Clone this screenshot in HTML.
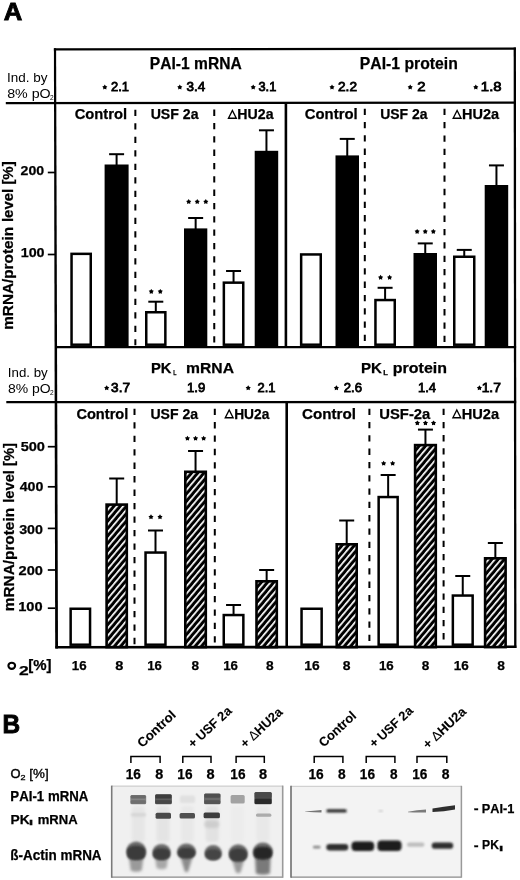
<!DOCTYPE html>
<html><head><meta charset="utf-8"><style>
html,body{margin:0;padding:0;background:#fff;}
text[font-weight="bold"]{stroke:#000;stroke-width:0.25px;}
svg{display:block;will-change:transform;font-family:"Liberation Sans",sans-serif;font-kerning:none;}
</style></head><body>
<svg width="520" height="880" viewBox="0 0 520 880">
<defs>
<pattern id="hatch" width="4.76" height="10" patternUnits="userSpaceOnUse" patternTransform="rotate(40)">
<rect width="4.76" height="10" fill="#000"/><rect x="0" width="1.7" height="10" fill="#fff"/>
</pattern>
<filter id="bl05" x="-20%" y="-50%" width="140%" height="200%"><feGaussianBlur stdDeviation="0.6"/></filter>
<filter id="bl07" x="-20%" y="-50%" width="140%" height="200%"><feGaussianBlur stdDeviation="0.65"/></filter>
<filter id="bl1" x="-20%" y="-50%" width="140%" height="200%"><feGaussianBlur stdDeviation="0.9"/></filter>
<filter id="bl12" x="-30%" y="-30%" width="160%" height="160%"><feGaussianBlur stdDeviation="1.2"/></filter>
<filter id="bl15" x="-30%" y="-30%" width="160%" height="160%"><feGaussianBlur stdDeviation="1.4"/></filter>
<filter id="bl2" x="-30%" y="-30%" width="160%" height="160%"><feGaussianBlur stdDeviation="1.8"/></filter>
</defs>
<rect width="520" height="880" fill="#fff"/>
<text x="3.66" y="20.40" font-size="24.8" font-weight="bold" textLength="18.51" lengthAdjust="spacingAndGlyphs" fill="#000" style="stroke-width:0.9px">A</text>
<path d="M53.9,48.2 L56.1,48.2 L58.0,648.6 L55.2,648.6 Z" fill="#000"/>
<line x1="514.8" y1="47.4" x2="515.3" y2="648.0" stroke="#000" stroke-width="2.3"/>
<line x1="53.9" y1="49.4" x2="515.9" y2="48.6" stroke="#000" stroke-width="2.3"/>
<line x1="5.8" y1="103.2" x2="515.9" y2="102.7" stroke="#000" stroke-width="2.3"/>
<line x1="55.2" y1="347.1" x2="516.1" y2="347.1" stroke="#000" stroke-width="2.3"/>
<line x1="6.3" y1="402.1" x2="516.2" y2="402.0" stroke="#000" stroke-width="2.3"/>
<line x1="55.4" y1="647.3" x2="516.4" y2="646.8" stroke="#000" stroke-width="2.6"/>
<line x1="285.9" y1="102.9" x2="285.9" y2="347.1" stroke="#000" stroke-width="2.6" />
<line x1="286.7" y1="402.0" x2="286.7" y2="647.0" stroke="#000" stroke-width="2.6" />
<line x1="135.35" y1="109.8" x2="135.35" y2="345.2" stroke="#000" stroke-width="2.0" stroke-dasharray="6.3 7.20"/>
<line x1="214.25" y1="109.6" x2="214.25" y2="345.2" stroke="#000" stroke-width="2.0" stroke-dasharray="6.3 7.03"/>
<line x1="364.8" y1="108.7" x2="364.8" y2="345.2" stroke="#000" stroke-width="2.0" stroke-dasharray="6.3 7.00"/>
<line x1="444.5" y1="108.7" x2="444.5" y2="345.2" stroke="#000" stroke-width="2.0" stroke-dasharray="6.3 7.06"/>
<line x1="134.5" y1="408.7" x2="134.5" y2="646.2" stroke="#000" stroke-width="2.0" stroke-dasharray="6.3 7.18"/>
<line x1="214.8" y1="408.7" x2="214.8" y2="646.2" stroke="#000" stroke-width="2.0" stroke-dasharray="6.3 7.08"/>
<line x1="369.4" y1="408.7" x2="369.4" y2="646.2" stroke="#000" stroke-width="2.0" stroke-dasharray="6.3 7.00"/>
<line x1="443.6" y1="408.7" x2="443.6" y2="646.2" stroke="#000" stroke-width="2.0" stroke-dasharray="6.3 6.90"/>
<text x="149.86" y="68.70" font-size="16.5" font-weight="bold" textLength="91.85" lengthAdjust="spacingAndGlyphs" fill="#000" >PAI-1 mRNA</text>
<text x="359.85" y="68.70" font-size="16.5" font-weight="bold" textLength="97.93" lengthAdjust="spacingAndGlyphs" fill="#000" >PAI-1 protein</text>
<polygon points="104.80,84.60 105.72,86.03 107.37,86.47 106.29,87.78 106.39,89.48 104.80,88.87 103.21,89.48 103.31,87.78 102.23,86.47 103.88,86.03" fill="#000"/>
<text x="110.95" y="91.20" font-size="13" font-weight="normal" textLength="17.98" lengthAdjust="spacingAndGlyphs" fill="#000" style="stroke:#000;stroke-width:0.8px">2.1</text>
<polygon points="179.80,84.60 180.72,86.03 182.37,86.47 181.29,87.78 181.39,89.48 179.80,88.87 178.21,89.48 178.31,87.78 177.23,86.47 178.88,86.03" fill="#000"/>
<text x="186.49" y="91.20" font-size="13" font-weight="normal" textLength="18.71" lengthAdjust="spacingAndGlyphs" fill="#000" style="stroke:#000;stroke-width:0.8px">3.4</text>
<polygon points="253.20,84.60 254.12,86.03 255.77,86.47 254.69,87.78 254.79,89.48 253.20,88.87 251.61,89.48 251.71,87.78 250.63,86.47 252.28,86.03" fill="#000"/>
<text x="258.51" y="91.20" font-size="13" font-weight="normal" textLength="17.81" lengthAdjust="spacingAndGlyphs" fill="#000" style="stroke:#000;stroke-width:0.8px">3.1</text>
<polygon points="332.00,84.60 332.92,86.03 334.57,86.47 333.49,87.78 333.59,89.48 332.00,88.87 330.41,89.48 330.51,87.78 329.43,86.47 331.08,86.03" fill="#000"/>
<text x="338.01" y="91.20" font-size="13" font-weight="normal" textLength="18.97" lengthAdjust="spacingAndGlyphs" fill="#000" style="stroke:#000;stroke-width:0.8px">2.2</text>
<polygon points="410.20,84.60 411.12,86.03 412.77,86.47 411.69,87.78 411.79,89.48 410.20,88.87 408.61,89.48 408.71,87.78 407.63,86.47 409.28,86.03" fill="#000"/>
<text x="417.15" y="91.20" font-size="13" font-weight="normal" textLength="8.30" lengthAdjust="spacingAndGlyphs" fill="#000" style="stroke:#000;stroke-width:0.8px">2</text>
<polygon points="475.80,84.60 476.72,86.03 478.37,86.47 477.29,87.78 477.39,89.48 475.80,88.87 474.21,89.48 474.31,87.78 473.23,86.47 474.88,86.03" fill="#000"/>
<text x="480.87" y="91.20" font-size="13" font-weight="normal" textLength="20.68" lengthAdjust="spacingAndGlyphs" fill="#000" style="stroke:#000;stroke-width:0.8px">1.8</text>
<text x="7.06" y="82.10" font-size="12" font-weight="normal" textLength="40.47" lengthAdjust="spacingAndGlyphs" fill="#000" >Ind. by</text>
<text x="7.18" y="97.90" font-size="12" font-weight="normal" textLength="43.50" lengthAdjust="spacingAndGlyphs" fill="#000" >8% pO</text>
<text x="50.07" y="99.70" font-size="7" font-weight="normal" textLength="3.66" lengthAdjust="spacingAndGlyphs" fill="#000" >2</text>
<text x="7.87" y="377.10" font-size="12" font-weight="normal" textLength="39.89" lengthAdjust="spacingAndGlyphs" fill="#000" >Ind. by</text>
<text x="7.99" y="393.30" font-size="12" font-weight="normal" textLength="42.67" lengthAdjust="spacingAndGlyphs" fill="#000" >8% pO</text>
<text x="50.07" y="395.10" font-size="7" font-weight="normal" textLength="3.66" lengthAdjust="spacingAndGlyphs" fill="#000" >2</text>
<text x="74.70" y="119.00" font-size="14.5" font-weight="bold" textLength="52.35" lengthAdjust="spacingAndGlyphs" fill="#000" >Control</text>
<text x="150.65" y="119.00" font-size="14.5" font-weight="bold" textLength="47.86" lengthAdjust="spacingAndGlyphs" fill="#000" >USF 2a</text>
<path d="M228.48,118.23 L236.32,118.23 L232.40,110.48 Z" fill="none" stroke="#000" stroke-width="1.35" stroke-linejoin="miter"/>
<text x="237.35" y="119.00" font-size="14.5" font-weight="bold" textLength="36.16" lengthAdjust="spacingAndGlyphs" fill="#000" >HU2a</text>
<text x="304.79" y="119.00" font-size="14.5" font-weight="bold" textLength="52.86" lengthAdjust="spacingAndGlyphs" fill="#000" >Control</text>
<text x="380.16" y="119.00" font-size="14.5" font-weight="bold" textLength="47.35" lengthAdjust="spacingAndGlyphs" fill="#000" >USF 2a</text>
<path d="M453.18,118.23 L461.02,118.23 L457.10,110.48 Z" fill="none" stroke="#000" stroke-width="1.35" stroke-linejoin="miter"/>
<text x="462.03" y="119.00" font-size="14.5" font-weight="bold" textLength="37.08" lengthAdjust="spacingAndGlyphs" fill="#000" >HU2a</text>
<text x="76.40" y="418.50" font-size="14.5" font-weight="bold" textLength="51.93" lengthAdjust="spacingAndGlyphs" fill="#000" >Control</text>
<text x="150.46" y="418.50" font-size="14.5" font-weight="bold" textLength="47.66" lengthAdjust="spacingAndGlyphs" fill="#000" >USF 2a</text>
<path d="M225.28,417.72 L233.12,417.72 L229.20,409.98 Z" fill="none" stroke="#000" stroke-width="1.35" stroke-linejoin="miter"/>
<text x="234.18" y="418.50" font-size="14.5" font-weight="bold" textLength="35.13" lengthAdjust="spacingAndGlyphs" fill="#000" >HU2a</text>
<text x="301.98" y="418.50" font-size="14.5" font-weight="bold" textLength="53.90" lengthAdjust="spacingAndGlyphs" fill="#000" >Control</text>
<text x="379.31" y="418.50" font-size="14.5" font-weight="bold" textLength="50.99" lengthAdjust="spacingAndGlyphs" fill="#000" >USF-2a</text>
<path d="M452.88,417.72 L460.72,417.72 L456.80,409.98 Z" fill="none" stroke="#000" stroke-width="1.35" stroke-linejoin="miter"/>
<text x="461.72" y="418.50" font-size="14.5" font-weight="bold" textLength="37.39" lengthAdjust="spacingAndGlyphs" fill="#000" >HU2a</text>
<line x1="47.8" y1="172.5" x2="55" y2="172.5" stroke="#000" stroke-width="1.7" />
<text x="20.61" y="175.30" font-size="13.5" font-weight="bold" textLength="23.57" lengthAdjust="spacingAndGlyphs" fill="#000" >200</text>
<line x1="47.8" y1="254.5" x2="55" y2="254.5" stroke="#000" stroke-width="1.7" />
<text x="20.70" y="257.30" font-size="13.5" font-weight="bold" textLength="23.89" lengthAdjust="spacingAndGlyphs" fill="#000" >100</text>
<line x1="47.8" y1="446.7" x2="55" y2="446.7" stroke="#000" stroke-width="1.7" />
<text x="20.65" y="451.00" font-size="13.5" font-weight="bold" textLength="24.35" lengthAdjust="spacingAndGlyphs" fill="#000" >500</text>
<line x1="47.8" y1="486.8" x2="55" y2="486.8" stroke="#000" stroke-width="1.7" />
<text x="19.69" y="491.00" font-size="13.5" font-weight="bold" textLength="23.70" lengthAdjust="spacingAndGlyphs" fill="#000" >400</text>
<line x1="47.8" y1="528.4" x2="55" y2="528.4" stroke="#000" stroke-width="1.7" />
<text x="19.17" y="533.80" font-size="13.5" font-weight="bold" textLength="23.81" lengthAdjust="spacingAndGlyphs" fill="#000" >300</text>
<line x1="47.8" y1="570.0" x2="55" y2="570.0" stroke="#000" stroke-width="1.7" />
<text x="18.59" y="575.00" font-size="13.5" font-weight="bold" textLength="24.41" lengthAdjust="spacingAndGlyphs" fill="#000" >200</text>
<line x1="47.8" y1="608.2" x2="55" y2="608.2" stroke="#000" stroke-width="1.7" />
<text x="18.18" y="610.90" font-size="13.5" font-weight="bold" textLength="24.42" lengthAdjust="spacingAndGlyphs" fill="#000" >100</text>
<g transform="translate(13.00,328.80) rotate(-90)"><text x="-1.01" y="0" font-size="15" font-weight="bold" textLength="102.96" lengthAdjust="spacingAndGlyphs">mRNA/protein</text></g>
<g transform="translate(13.00,221.00) rotate(-90)"><text x="-1.04" y="0" font-size="15" font-weight="bold" textLength="60.68" lengthAdjust="spacingAndGlyphs">level [%]</text></g>
<g transform="translate(14.20,610.20) rotate(-90)"><text x="-1.01" y="0" font-size="15" font-weight="bold" textLength="103.27" lengthAdjust="spacingAndGlyphs">mRNA/protein</text></g>
<g transform="translate(14.20,501.70) rotate(-90)"><text x="-1.02" y="0" font-size="15" font-weight="bold" textLength="59.55" lengthAdjust="spacingAndGlyphs">level [%]</text></g>
<rect x="71.55" y="253.85" width="19.20" height="90.85" fill="#fff" stroke="#000" stroke-width="2.5"/>
<line x1="116.6" y1="154.2" x2="116.6" y2="165.5" stroke="#000" stroke-width="2.0" />
<line x1="109.1" y1="154.2" x2="124.1" y2="154.2" stroke="#000" stroke-width="2.0" />
<rect x="104.60" y="164.50" width="24.00" height="182.60" fill="#000"/>
<line x1="155.8" y1="301.7" x2="155.8" y2="312.0" stroke="#000" stroke-width="2.0" />
<line x1="148.3" y1="301.7" x2="163.3" y2="301.7" stroke="#000" stroke-width="2.0" />
<rect x="146.25" y="312.25" width="19.10" height="32.45" fill="#fff" stroke="#000" stroke-width="2.5"/>
<polygon points="151.30,288.90 152.22,290.33 153.87,290.77 152.79,292.08 152.89,293.78 151.30,293.17 149.71,293.78 149.81,292.08 148.73,290.77 150.38,290.33" fill="#000"/>
<polygon points="160.30,288.90 161.22,290.33 162.87,290.77 161.79,292.08 161.89,293.78 160.30,293.17 158.71,293.78 158.81,292.08 157.73,290.77 159.38,290.33" fill="#000"/>
<line x1="195.65" y1="218.0" x2="195.65" y2="229.4" stroke="#000" stroke-width="2.0" />
<line x1="188.15" y1="218.0" x2="203.15" y2="218.0" stroke="#000" stroke-width="2.0" />
<rect x="184.00" y="228.40" width="23.30" height="118.70" fill="#000"/>
<polygon points="188.70,199.10 189.62,200.53 191.27,200.97 190.19,202.28 190.29,203.98 188.70,203.37 187.11,203.98 187.21,202.28 186.13,200.97 187.78,200.53" fill="#000"/>
<polygon points="197.25,199.10 198.17,200.53 199.82,200.97 198.74,202.28 198.84,203.98 197.25,203.37 195.66,203.98 195.76,202.28 194.68,200.97 196.33,200.53" fill="#000"/>
<polygon points="205.80,199.10 206.72,200.53 208.37,200.97 207.29,202.28 207.39,203.98 205.80,203.37 204.21,203.98 204.31,202.28 203.23,200.97 204.88,200.53" fill="#000"/>
<line x1="233.55" y1="271.0" x2="233.55" y2="282.4" stroke="#000" stroke-width="2.0" />
<line x1="226.05" y1="271.0" x2="241.05" y2="271.0" stroke="#000" stroke-width="2.0" />
<rect x="223.85" y="282.65" width="19.40" height="62.05" fill="#fff" stroke="#000" stroke-width="2.5"/>
<line x1="266.45" y1="130.3" x2="266.45" y2="151.8" stroke="#000" stroke-width="2.0" />
<line x1="258.95" y1="130.3" x2="273.95" y2="130.3" stroke="#000" stroke-width="2.0" />
<rect x="254.70" y="150.80" width="23.50" height="196.30" fill="#000"/>
<rect x="301.15" y="254.45" width="19.60" height="90.25" fill="#fff" stroke="#000" stroke-width="2.5"/>
<line x1="347.25" y1="138.9" x2="347.25" y2="156.4" stroke="#000" stroke-width="2.0" />
<line x1="339.75" y1="138.9" x2="354.75" y2="138.9" stroke="#000" stroke-width="2.0" />
<rect x="335.50" y="155.40" width="23.50" height="191.70" fill="#000"/>
<line x1="385.1" y1="287.8" x2="385.1" y2="299.8" stroke="#000" stroke-width="2.0" />
<line x1="377.6" y1="287.8" x2="392.6" y2="287.8" stroke="#000" stroke-width="2.0" />
<rect x="375.45" y="300.05" width="19.30" height="44.65" fill="#fff" stroke="#000" stroke-width="2.5"/>
<polygon points="380.60,274.80 381.52,276.23 383.17,276.67 382.09,277.98 382.19,279.68 380.60,279.07 379.01,279.68 379.11,277.98 378.03,276.67 379.68,276.23" fill="#000"/>
<polygon points="389.60,274.80 390.52,276.23 392.17,276.67 391.09,277.98 391.19,279.68 389.60,279.07 388.01,279.68 388.11,277.98 387.03,276.67 388.68,276.23" fill="#000"/>
<line x1="425.25" y1="243.4" x2="425.25" y2="254.0" stroke="#000" stroke-width="2.0" />
<line x1="417.75" y1="243.4" x2="432.75" y2="243.4" stroke="#000" stroke-width="2.0" />
<rect x="413.50" y="253.00" width="23.50" height="94.10" fill="#000"/>
<polygon points="417.15,228.90 418.07,230.33 419.72,230.77 418.64,232.08 418.74,233.78 417.15,233.17 415.56,233.78 415.66,232.08 414.58,230.77 416.23,230.33" fill="#000"/>
<polygon points="425.25,228.90 426.17,230.33 427.82,230.77 426.74,232.08 426.84,233.78 425.25,233.17 423.66,233.78 423.76,232.08 422.68,230.77 424.33,230.33" fill="#000"/>
<polygon points="433.35,228.90 434.27,230.33 435.92,230.77 434.84,232.08 434.94,233.78 433.35,233.17 431.76,233.78 431.86,232.08 430.78,230.77 432.43,230.33" fill="#000"/>
<line x1="464.25" y1="249.9" x2="464.25" y2="256.5" stroke="#000" stroke-width="2.0" />
<line x1="456.75" y1="249.9" x2="471.75" y2="249.9" stroke="#000" stroke-width="2.0" />
<rect x="454.25" y="256.75" width="20.00" height="87.95" fill="#fff" stroke="#000" stroke-width="2.5"/>
<line x1="496.45" y1="165.4" x2="496.45" y2="186.0" stroke="#000" stroke-width="2.0" />
<line x1="488.95" y1="165.4" x2="503.95" y2="165.4" stroke="#000" stroke-width="2.0" />
<rect x="484.70" y="185.00" width="23.50" height="162.10" fill="#000"/>
<text x="150.91" y="372.80" font-size="15.3" font-weight="bold" textLength="20.53" lengthAdjust="spacingAndGlyphs" fill="#000" >PK</text>
<text x="173.15" y="375.40" font-size="7" font-weight="bold" textLength="3.21" lengthAdjust="spacingAndGlyphs" fill="#000" >L</text>
<text x="186.07" y="372.80" font-size="15.3" font-weight="bold" textLength="47.95" lengthAdjust="spacingAndGlyphs" fill="#000" >mRNA</text>
<text x="360.89" y="372.80" font-size="15.3" font-weight="bold" textLength="20.95" lengthAdjust="spacingAndGlyphs" fill="#000" >PK</text>
<text x="383.29" y="375.40" font-size="7" font-weight="bold" textLength="4.64" lengthAdjust="spacingAndGlyphs" fill="#000" >L</text>
<text x="392.85" y="372.80" font-size="15.3" font-weight="bold" textLength="54.14" lengthAdjust="spacingAndGlyphs" fill="#000" >protein</text>
<polygon points="106.70,385.30 107.62,386.73 109.27,387.17 108.19,388.48 108.29,390.18 106.70,389.57 105.11,390.18 105.21,388.48 104.13,387.17 105.78,386.73" fill="#000"/>
<text x="111.08" y="391.80" font-size="13" font-weight="normal" textLength="18.90" lengthAdjust="spacingAndGlyphs" fill="#000" style="stroke:#000;stroke-width:0.8px">3.7</text>
<text x="187.00" y="391.80" font-size="13" font-weight="normal" textLength="18.33" lengthAdjust="spacingAndGlyphs" fill="#000" style="stroke:#000;stroke-width:0.8px">1.9</text>
<polygon points="248.20,385.30 249.12,386.73 250.77,387.17 249.69,388.48 249.79,390.18 248.20,389.57 246.61,390.18 246.71,388.48 245.63,387.17 247.28,386.73" fill="#000"/>
<text x="257.55" y="391.80" font-size="13" font-weight="normal" textLength="17.98" lengthAdjust="spacingAndGlyphs" fill="#000" style="stroke:#000;stroke-width:0.8px">2.1</text>
<polygon points="336.40,385.30 337.32,386.73 338.97,387.17 337.89,388.48 337.99,390.18 336.40,389.57 334.81,390.18 334.91,388.48 333.83,387.17 335.48,386.73" fill="#000"/>
<text x="343.74" y="391.80" font-size="13" font-weight="normal" textLength="18.24" lengthAdjust="spacingAndGlyphs" fill="#000" style="stroke:#000;stroke-width:0.8px">2.6</text>
<text x="418.01" y="391.80" font-size="13" font-weight="normal" textLength="18.07" lengthAdjust="spacingAndGlyphs" fill="#000" style="stroke:#000;stroke-width:0.8px">1.4</text>
<polygon points="479.40,385.30 480.32,386.73 481.97,387.17 480.89,388.48 480.99,390.18 479.40,389.57 477.81,390.18 477.91,388.48 476.83,387.17 478.48,386.73" fill="#000"/>
<text x="481.65" y="391.80" font-size="13" font-weight="normal" textLength="19.25" lengthAdjust="spacingAndGlyphs" fill="#000" style="stroke:#000;stroke-width:0.8px">1.7</text>
<rect x="70.65" y="608.75" width="19.40" height="35.95" fill="#fff" stroke="#000" stroke-width="2.5"/>
<line x1="116.69999999999999" y1="478.5" x2="116.69999999999999" y2="504.3" stroke="#000" stroke-width="2.0" />
<line x1="109.19999999999999" y1="478.5" x2="124.19999999999999" y2="478.5" stroke="#000" stroke-width="2.0" />
<rect x="106.60" y="504.60" width="20.20" height="142.50" fill="url(#hatch)" stroke="#000" stroke-width="2.6"/>
<line x1="155.5" y1="530.5" x2="155.5" y2="552.3" stroke="#000" stroke-width="2.0" />
<line x1="148.0" y1="530.5" x2="163.0" y2="530.5" stroke="#000" stroke-width="2.0" />
<rect x="145.55" y="552.55" width="19.90" height="92.15" fill="#fff" stroke="#000" stroke-width="2.5"/>
<polygon points="151.00,514.30 151.92,515.73 153.57,516.17 152.49,517.48 152.59,519.18 151.00,518.57 149.41,519.18 149.51,517.48 148.43,516.17 150.08,515.73" fill="#000"/>
<polygon points="160.00,514.30 160.92,515.73 162.57,516.17 161.49,517.48 161.59,519.18 160.00,518.57 158.41,519.18 158.51,517.48 157.43,516.17 159.08,515.73" fill="#000"/>
<line x1="195.55" y1="451.0" x2="195.55" y2="471.5" stroke="#000" stroke-width="2.0" />
<line x1="188.05" y1="451.0" x2="203.05" y2="451.0" stroke="#000" stroke-width="2.0" />
<rect x="185.30" y="471.80" width="20.50" height="175.30" fill="url(#hatch)" stroke="#000" stroke-width="2.6"/>
<polygon points="187.45,435.70 188.37,437.13 190.02,437.57 188.94,438.88 189.04,440.58 187.45,439.97 185.86,440.58 185.96,438.88 184.88,437.57 186.53,437.13" fill="#000"/>
<polygon points="195.55,435.70 196.47,437.13 198.12,437.57 197.04,438.88 197.14,440.58 195.55,439.97 193.96,440.58 194.06,438.88 192.98,437.57 194.63,437.13" fill="#000"/>
<polygon points="203.65,435.70 204.57,437.13 206.22,437.57 205.14,438.88 205.24,440.58 203.65,439.97 202.06,440.58 202.16,438.88 201.08,437.57 202.73,437.13" fill="#000"/>
<line x1="233.55" y1="605.0" x2="233.55" y2="614.8" stroke="#000" stroke-width="2.0" />
<line x1="226.05" y1="605.0" x2="241.05" y2="605.0" stroke="#000" stroke-width="2.0" />
<rect x="223.75" y="615.05" width="19.60" height="29.65" fill="#fff" stroke="#000" stroke-width="2.5"/>
<line x1="266.65" y1="570.0" x2="266.65" y2="581.0" stroke="#000" stroke-width="2.0" />
<line x1="259.15" y1="570.0" x2="274.15" y2="570.0" stroke="#000" stroke-width="2.0" />
<rect x="256.50" y="581.30" width="20.30" height="65.80" fill="url(#hatch)" stroke="#000" stroke-width="2.6"/>
<rect x="301.55" y="608.75" width="20.10" height="35.95" fill="#fff" stroke="#000" stroke-width="2.5"/>
<line x1="346.7" y1="520.5" x2="346.7" y2="544.0" stroke="#000" stroke-width="2.0" />
<line x1="339.2" y1="520.5" x2="354.2" y2="520.5" stroke="#000" stroke-width="2.0" />
<rect x="336.70" y="544.30" width="20.00" height="102.80" fill="url(#hatch)" stroke="#000" stroke-width="2.6"/>
<line x1="388.15" y1="475.0" x2="388.15" y2="496.8" stroke="#000" stroke-width="2.0" />
<line x1="380.65" y1="475.0" x2="395.65" y2="475.0" stroke="#000" stroke-width="2.0" />
<rect x="378.65" y="497.05" width="19.00" height="147.65" fill="#fff" stroke="#000" stroke-width="2.5"/>
<polygon points="383.65,460.70 384.57,462.13 386.22,462.57 385.14,463.88 385.24,465.58 383.65,464.97 382.06,465.58 382.16,463.88 381.08,462.57 382.73,462.13" fill="#000"/>
<polygon points="392.65,460.70 393.57,462.13 395.22,462.57 394.14,463.88 394.24,465.58 392.65,464.97 391.06,465.58 391.16,463.88 390.08,462.57 391.73,462.13" fill="#000"/>
<line x1="425.45000000000005" y1="429.6" x2="425.45000000000005" y2="444.8" stroke="#000" stroke-width="2.0" />
<line x1="417.95000000000005" y1="429.6" x2="432.95000000000005" y2="429.6" stroke="#000" stroke-width="2.0" />
<rect x="415.10" y="445.10" width="20.70" height="202.00" fill="url(#hatch)" stroke="#000" stroke-width="2.6"/>
<polygon points="417.35,420.40 418.27,421.83 419.92,422.27 418.84,423.58 418.94,425.28 417.35,424.67 415.76,425.28 415.86,423.58 414.78,422.27 416.43,421.83" fill="#000"/>
<polygon points="425.45,420.40 426.37,421.83 428.02,422.27 426.94,423.58 427.04,425.28 425.45,424.67 423.86,425.28 423.96,423.58 422.88,422.27 424.53,421.83" fill="#000"/>
<polygon points="433.55,420.40 434.47,421.83 436.12,422.27 435.04,423.58 435.14,425.28 433.55,424.67 431.96,425.28 432.06,423.58 430.98,422.27 432.63,421.83" fill="#000"/>
<line x1="462.75" y1="576.0" x2="462.75" y2="595.3" stroke="#000" stroke-width="2.0" />
<line x1="455.25" y1="576.0" x2="470.25" y2="576.0" stroke="#000" stroke-width="2.0" />
<rect x="452.85" y="595.55" width="19.80" height="49.15" fill="#fff" stroke="#000" stroke-width="2.5"/>
<line x1="495.35" y1="543.0" x2="495.35" y2="558.0" stroke="#000" stroke-width="2.0" />
<line x1="487.85" y1="543.0" x2="502.85" y2="543.0" stroke="#000" stroke-width="2.0" />
<rect x="485.10" y="558.30" width="20.50" height="88.80" fill="url(#hatch)" stroke="#000" stroke-width="2.6"/>
<ellipse cx="11.75" cy="665.8" rx="3.35" ry="3.05" fill="none" stroke="#000" stroke-width="2.1"/>
<text x="19.00" y="674.50" font-size="12.5" font-weight="bold" textLength="9.70" lengthAdjust="spacingAndGlyphs" fill="#000" >2</text>
<text x="28.16" y="670.00" font-size="14" font-weight="bold" textLength="23.28" lengthAdjust="spacingAndGlyphs" fill="#000" >[%]</text>
<text x="71.86" y="670.40" font-size="13" font-weight="bold" textLength="14.82" lengthAdjust="spacingAndGlyphs" fill="#000" >16</text>
<text x="115.34" y="670.40" font-size="13" font-weight="bold" textLength="8.11" lengthAdjust="spacingAndGlyphs" fill="#000" >8</text>
<text x="147.27" y="670.40" font-size="13" font-weight="bold" textLength="14.71" lengthAdjust="spacingAndGlyphs" fill="#000" >16</text>
<text x="191.57" y="670.40" font-size="13" font-weight="bold" textLength="7.55" lengthAdjust="spacingAndGlyphs" fill="#000" >8</text>
<text x="223.16" y="670.40" font-size="13" font-weight="bold" textLength="14.82" lengthAdjust="spacingAndGlyphs" fill="#000" >16</text>
<text x="266.06" y="670.40" font-size="13" font-weight="bold" textLength="7.66" lengthAdjust="spacingAndGlyphs" fill="#000" >8</text>
<text x="304.33" y="670.40" font-size="13" font-weight="bold" textLength="15.37" lengthAdjust="spacingAndGlyphs" fill="#000" >16</text>
<text x="342.86" y="670.40" font-size="13" font-weight="bold" textLength="7.77" lengthAdjust="spacingAndGlyphs" fill="#000" >8</text>
<text x="378.96" y="670.40" font-size="13" font-weight="bold" textLength="14.82" lengthAdjust="spacingAndGlyphs" fill="#000" >16</text>
<text x="421.67" y="670.40" font-size="13" font-weight="bold" textLength="7.55" lengthAdjust="spacingAndGlyphs" fill="#000" >8</text>
<text x="453.75" y="670.40" font-size="13" font-weight="bold" textLength="15.04" lengthAdjust="spacingAndGlyphs" fill="#000" >16</text>
<text x="497.36" y="670.40" font-size="13" font-weight="bold" textLength="7.66" lengthAdjust="spacingAndGlyphs" fill="#000" >8</text>
<text x="2.57" y="733.40" font-size="25" font-weight="bold" textLength="17.64" lengthAdjust="spacingAndGlyphs" fill="#000" style="stroke-width:0.9px">B</text>
<text x="10.59" y="777.60" font-size="13" font-weight="normal" textLength="10.03" lengthAdjust="spacingAndGlyphs" fill="#000" style="stroke:#000;stroke-width:0.45px">O</text>
<text x="20.55" y="780.20" font-size="6.5" font-weight="normal" textLength="5.01" lengthAdjust="spacingAndGlyphs" fill="#000" style="stroke:#000;stroke-width:0.3px">2</text>
<text x="29.35" y="777.60" font-size="13" font-weight="normal" textLength="19.31" lengthAdjust="spacingAndGlyphs" fill="#000" style="stroke:#000;stroke-width:0.35px">[%]</text>
<text x="10.36" y="801.25" font-size="14" font-weight="bold" textLength="77.98" lengthAdjust="spacingAndGlyphs" fill="#000" >PAI-1 mRNA</text>
<text x="10.58" y="823.80" font-size="13.5" font-weight="bold" textLength="19.15" lengthAdjust="spacingAndGlyphs" fill="#000" >PK</text>
<text x="28.97" y="825.20" font-size="6.5" font-weight="normal" textLength="4.04" lengthAdjust="spacingAndGlyphs" fill="#000" style="stroke:#000;stroke-width:0.4px">l</text>
<text x="37.74" y="823.80" font-size="13.5" font-weight="bold" textLength="39.91" lengthAdjust="spacingAndGlyphs" fill="#000" >mRNA</text>
<text x="10.31" y="860.00" font-size="14" font-weight="bold" textLength="91.30" lengthAdjust="spacingAndGlyphs" fill="#000" >ß-Actin mRNA</text>
<text x="125.64" y="779.20" font-size="14" font-weight="bold" textLength="15.15" lengthAdjust="spacingAndGlyphs" fill="#000" >16</text>
<text x="155.24" y="779.20" font-size="14" font-weight="bold" textLength="8.00" lengthAdjust="spacingAndGlyphs" fill="#000" >8</text>
<text x="177.34" y="779.20" font-size="14" font-weight="bold" textLength="15.15" lengthAdjust="spacingAndGlyphs" fill="#000" >16</text>
<text x="206.54" y="779.20" font-size="14" font-weight="bold" textLength="8.11" lengthAdjust="spacingAndGlyphs" fill="#000" >8</text>
<text x="230.34" y="779.20" font-size="14" font-weight="bold" textLength="15.15" lengthAdjust="spacingAndGlyphs" fill="#000" >16</text>
<text x="259.14" y="779.20" font-size="14" font-weight="bold" textLength="8.11" lengthAdjust="spacingAndGlyphs" fill="#000" >8</text>
<text x="308.44" y="779.20" font-size="14" font-weight="bold" textLength="15.26" lengthAdjust="spacingAndGlyphs" fill="#000" >16</text>
<text x="338.06" y="779.20" font-size="14" font-weight="bold" textLength="7.66" lengthAdjust="spacingAndGlyphs" fill="#000" >8</text>
<text x="359.84" y="779.20" font-size="14" font-weight="bold" textLength="15.15" lengthAdjust="spacingAndGlyphs" fill="#000" >16</text>
<text x="390.07" y="779.20" font-size="14" font-weight="bold" textLength="7.55" lengthAdjust="spacingAndGlyphs" fill="#000" >8</text>
<text x="412.24" y="779.20" font-size="14" font-weight="bold" textLength="15.15" lengthAdjust="spacingAndGlyphs" fill="#000" >16</text>
<text x="441.86" y="779.20" font-size="14" font-weight="bold" textLength="7.77" lengthAdjust="spacingAndGlyphs" fill="#000" >8</text>
<path d="M130.9,763 V756.6 H160.1 V763" fill="none" stroke="#000" stroke-width="1.5"/>
<path d="M182.8,763 V756.6 H211.0 V763" fill="none" stroke="#000" stroke-width="1.5"/>
<path d="M236.1,763 V756.6 H264.3 V763" fill="none" stroke="#000" stroke-width="1.5"/>
<path d="M314.2,763 V756.6 H342.9 V763" fill="none" stroke="#000" stroke-width="1.5"/>
<path d="M366.2,763 V756.6 H394.9 V763" fill="none" stroke="#000" stroke-width="1.5"/>
<path d="M417.0,763 V756.6 H446.8 V763" fill="none" stroke="#000" stroke-width="1.5"/>
<g transform="translate(156.25,728.95) rotate(-43)"><text x="-23.47" y="4.47" font-size="13" font-weight="bold" textLength="47.33" lengthAdjust="spacingAndGlyphs" style="stroke-width:0.1px" >Control</text></g>
<g transform="translate(210.00,726.95) rotate(-43)"><text x="-27.27" y="4.47" font-size="13" font-weight="bold" textLength="53.93" lengthAdjust="spacingAndGlyphs" style="stroke-width:0.1px" >+ USF 2a</text></g>
<g transform="translate(261.50,727.45) rotate(-43)"><text x="-26.57" y="4.47" font-size="13" font-weight="bold" textLength="52.52" lengthAdjust="spacingAndGlyphs" style="stroke-width:0.1px" >+ <tspan font-weight="normal">Δ</tspan>HU2a</text></g>
<g transform="translate(337.25,729.20) rotate(-43)"><text x="-22.55" y="4.47" font-size="13" font-weight="bold" textLength="45.48" lengthAdjust="spacingAndGlyphs" style="stroke-width:0.1px" >Control</text></g>
<g transform="translate(391.25,726.70) rotate(-43)"><text x="-27.30" y="4.47" font-size="13" font-weight="bold" textLength="53.98" lengthAdjust="spacingAndGlyphs" style="stroke-width:0.1px" >+ USF 2a</text></g>
<g transform="translate(444.50,727.70) rotate(-43)"><text x="-27.25" y="4.47" font-size="13" font-weight="bold" textLength="53.88" lengthAdjust="spacingAndGlyphs" style="stroke-width:0.1px" >+ <tspan font-weight="normal">Δ</tspan>HU2a</text></g>
<text x="473.83" y="812.80" font-size="13" font-weight="bold" textLength="4.85" lengthAdjust="spacingAndGlyphs" fill="#000" >-</text>
<text x="481.75" y="812.60" font-size="13.5" font-weight="bold" textLength="32.61" lengthAdjust="spacingAndGlyphs" fill="#000" >PAI-1</text>
<text x="473.83" y="850.30" font-size="13" font-weight="bold" textLength="4.85" lengthAdjust="spacingAndGlyphs" fill="#000" >-</text>
<text x="482.09" y="849.40" font-size="13.5" font-weight="bold" textLength="16.82" lengthAdjust="spacingAndGlyphs" fill="#000" >PK</text>
<text x="499.00" y="851.40" font-size="7.3" font-weight="normal" textLength="4.30" lengthAdjust="spacingAndGlyphs" fill="#000" style="stroke:#000;stroke-width:0.4px">l</text>
<rect x="111.7" y="786.1" width="171.1" height="91.3" fill="#f0f0f0"/>
<line x1="111.7" y1="786.1" x2="282.8" y2="786.1" stroke="#c4c4c4" stroke-width="1"/>
<line x1="111.7" y1="877.2" x2="282.8" y2="877.2" stroke="#8a8a8a" stroke-width="1.3"/>
<line x1="111.7" y1="785.6" x2="111.7" y2="877.8" stroke="#7a7a7a" stroke-width="1.6"/>
<line x1="282.7" y1="785.6" x2="282.7" y2="877.8" stroke="#9a9a9a" stroke-width="1.6"/>
<rect x="131.8" y="806.0" width="13.0" height="36.0" rx="3.0" fill="#e6e6e6" filter="url(#bl2)"/>
<rect x="156.5" y="806.0" width="13.0" height="36.0" rx="3.0" fill="#e4e4e4" filter="url(#bl2)"/>
<rect x="181.0" y="806.0" width="13.0" height="36.0" rx="3.0" fill="#e8e8e8" filter="url(#bl2)"/>
<rect x="205.7" y="806.0" width="13.0" height="36.0" rx="3.0" fill="#e2e2e2" filter="url(#bl2)"/>
<rect x="231.0" y="806.0" width="13.0" height="36.0" rx="3.0" fill="#ececec" filter="url(#bl2)"/>
<rect x="256.6" y="806.0" width="13.0" height="36.0" rx="3.0" fill="#e8e8e8" filter="url(#bl2)"/>
<rect x="130.3" y="795.0" width="15.9" height="9.2" rx="1.5" fill="#858585" filter="url(#bl07)"/>
<rect x="130.8" y="795.3" width="14.9" height="3.3" rx="1.0" fill="#6a6a6a" filter="url(#bl07)"/>
<rect x="130.8" y="800.3" width="14.9" height="3.5" rx="1.0" fill="#6e6e6e" filter="url(#bl07)"/>
<rect x="155.0" y="794.2" width="16.9" height="10.0" rx="1.5" fill="#5c5c5c" filter="url(#bl07)"/>
<rect x="155.4" y="794.6" width="16.0" height="3.8" rx="1.0" fill="#3c3c3c" filter="url(#bl07)"/>
<rect x="155.4" y="800.3" width="16.0" height="3.5" rx="1.0" fill="#464646" filter="url(#bl07)"/>
<rect x="180.0" y="795.5" width="15.0" height="7.5" rx="1.5" fill="#e0e0e0" filter="url(#bl1)"/>
<rect x="204.0" y="793.4" width="16.6" height="10.8" rx="1.5" fill="#6a6a6a" filter="url(#bl07)"/>
<rect x="204.4" y="793.8" width="15.8" height="4.0" rx="1.0" fill="#505050" filter="url(#bl07)"/>
<rect x="204.4" y="800.3" width="15.8" height="3.6" rx="1.0" fill="#555555" filter="url(#bl07)"/>
<rect x="230.6" y="795.0" width="14.1" height="8.6" rx="1.5" fill="#a2a2a2" filter="url(#bl07)"/>
<rect x="254.4" y="792.0" width="17.4" height="12.3" rx="1.5" fill="#4c4c4c" filter="url(#bl07)"/>
<rect x="254.8" y="792.4" width="16.6" height="5.2" rx="1.0" fill="#4a4a4a" filter="url(#bl07)"/>
<rect x="254.8" y="798.8" width="16.6" height="5.1" rx="1.0" fill="#2a2a2a" filter="url(#bl07)"/>
<rect x="131.0" y="813.0" width="15.0" height="3.5" rx="1.5" fill="#d6d6d6" filter="url(#bl1)"/>
<rect x="155.6" y="812.8" width="15.4" height="6.0" rx="1.5" fill="#4a4a4a" filter="url(#bl07)"/>
<rect x="179.6" y="813.0" width="15.4" height="5.6" rx="1.5" fill="#505050" filter="url(#bl07)"/>
<rect x="203.6" y="812.5" width="16.3" height="5.7" rx="1.5" fill="#3c3c3c" filter="url(#bl07)"/>
<rect x="204.5" y="820.5" width="14.5" height="7.5" rx="3.8" fill="#cdcdcd" filter="url(#bl2)"/>
<rect x="256.0" y="813.6" width="15.4" height="3.2" rx="1.5" fill="#ababab" filter="url(#bl07)"/>
<path d="M128.2,851.8 L144.2,851.8 L141.7,870.5 Q136.2,873.0 130.7,870.5 Z" fill="#9a9a9a" filter="url(#bl15)"/>
<ellipse cx="136.2" cy="850.8" rx="9.7" ry="9.2" fill="#6a6a6a" filter="url(#bl1)"/>
<rect x="126.8" y="845.7" width="18.8" height="14.3" rx="8.0" ry="5.5" fill="#3a3a3a" filter="url(#bl1)"/>
<path d="M154.3,853.0 L168.8,853.0 L166.6,868.0 Q161.6,870.5 156.6,868.0 Z" fill="#a8a8a8" filter="url(#bl15)"/>
<ellipse cx="161.6" cy="852.0" rx="8.9" ry="8.0" fill="#6a6a6a" filter="url(#bl1)"/>
<rect x="152.9" y="848.2" width="17.3" height="11.8" rx="7.4" ry="4.8" fill="#3c3c3c" filter="url(#bl1)"/>
<path d="M179.0,852.0 L194.0,852.0 L188.3,871.0 Q186.5,873.5 184.7,871.0 Z" fill="#8c8c8c" filter="url(#bl15)"/>
<ellipse cx="186.5" cy="851.0" rx="9.2" ry="7.5" fill="#6a6a6a" filter="url(#bl1)"/>
<rect x="177.6" y="847.7" width="17.8" height="10.8" rx="7.6" ry="4.5" fill="#3e3e3e" filter="url(#bl1)"/>
<path d="M206.4,853.5 L219.9,853.5 L216.2,859.5 Q213.2,862.0 210.2,859.5 Z" fill="#c0c0c0" filter="url(#bl15)"/>
<ellipse cx="213.2" cy="852.5" rx="8.4" ry="7.5" fill="#6a6a6a" filter="url(#bl1)"/>
<rect x="205.0" y="849.2" width="16.3" height="10.8" rx="7.0" ry="4.5" fill="#454545" filter="url(#bl1)"/>
<path d="M230.6,853.9 L245.8,853.9 L240.7,872.0 Q238.2,874.5 235.7,872.0 Z" fill="#9a9a9a" filter="url(#bl15)"/>
<ellipse cx="238.2" cy="852.9" rx="9.3" ry="8.6" fill="#6a6a6a" filter="url(#bl1)"/>
<rect x="229.2" y="848.4" width="18.0" height="13.1" rx="7.7" ry="5.2" fill="#3c3c3c" filter="url(#bl1)"/>
<path d="M254.8,852.0 L270.9,852.0 L269.9,873.5 Q262.9,876.0 255.9,873.5 Z" fill="#7a7a7a" filter="url(#bl15)"/>
<ellipse cx="262.9" cy="851.0" rx="9.7" ry="8.5" fill="#6a6a6a" filter="url(#bl1)"/>
<rect x="253.4" y="846.7" width="18.9" height="12.8" rx="8.0" ry="5.1" fill="#262626" filter="url(#bl1)"/>
<rect x="291" y="786.3" width="170.5" height="90.9" fill="#f3f3f3"/>
<line x1="291" y1="786.3" x2="461.4" y2="786.3" stroke="#c8c8c8" stroke-width="1"/>
<line x1="291" y1="877.1" x2="461.4" y2="877.1" stroke="#8a8a8a" stroke-width="1.3"/>
<line x1="291" y1="785.8" x2="291" y2="877.7" stroke="#777" stroke-width="1.7"/>
<line x1="461.4" y1="785.8" x2="461.4" y2="877.7" stroke="#999" stroke-width="1.5"/>
<path d="M305,811.6 Q314,810.6 321.5,810 L321.5,812.6 Q314,812.4 305,811.8 Z" fill="#777" filter="url(#bl05)"/>
<rect x="326.3" y="809.2" width="20.5" height="3.4" rx="1.7" fill="#2a2a2a" filter="url(#bl1)"/>
<rect x="378.5" y="810.0" width="4.5" height="2.0" rx="1.0" fill="#cfcfcf" filter="url(#bl1)"/>
<path d="M408,811.8 Q417,810.2 426,809.6 L426,812.4 Q417,812.6 408,812.2 Z" fill="#7a7a7a" filter="url(#bl05)"/>
<path d="M432.5,808.5 Q444,806.5 455,805.3 L455,809.5 Q444,811.6 432.5,812 Z" fill="#2e2e2e" filter="url(#bl05)"/>
<rect x="313.0" y="845.7" width="7.5" height="2.9" rx="1.4" fill="#8a8a8a" filter="url(#bl1)"/>
<rect x="326.3" y="844.0" width="22.0" height="6.6" rx="3.3" fill="#2e2e2e" filter="url(#bl1)"/>
<rect x="351.5" y="841.6" width="22.7" height="9.4" rx="4.0" fill="#1c1c1c" filter="url(#bl1)"/>
<rect x="377.4" y="840.5" width="24.1" height="10.5" rx="4.0" fill="#1c1c1c" filter="url(#bl1)"/>
<rect x="407.0" y="842.5" width="17.4" height="4.3" rx="2.1" fill="#bdbdbd" filter="url(#bl1)"/>
<rect x="431.7" y="842.6" width="21.5" height="6.2" rx="3.1" fill="#2e2e2e" filter="url(#bl1)"/>
</svg>
</body></html>
